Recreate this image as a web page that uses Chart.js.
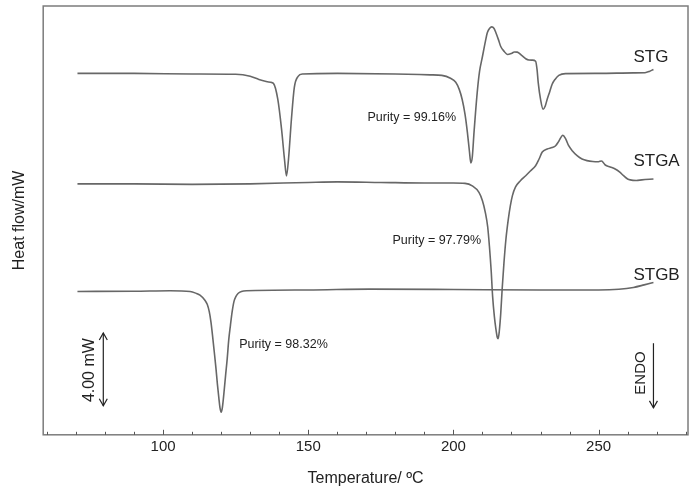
<!DOCTYPE html>
<html>
<head>
<meta charset="utf-8">
<script src="https://cdn.jsdelivr.net/npm/chart.js@4.4.1/dist/chart.umd.min.js"></script>
<style>
  html, body { margin: 0; padding: 0; background: #fff; }
  canvas { display: block; }
</style>
</head>
<body>
<canvas id="dsc" width="697" height="495"></canvas>
<script>
// temperatures (ºC) and heat flow (mW, stacked offset)
const stgT = [70.5, 90, 110, 125, 130, 133, 135.5, 137, 138, 139.5, 140.8, 141.8, 142.5, 143.2, 144.2, 145.2, 146.5, 148,
  160, 180, 192, 196, 199, 200.8, 202, 203, 204, 204.8, 205.5, 206, 206.5, 207.1, 208.2, 209, 210, 211, 211.7, 212.5, 213.2,
  214, 214.6, 215.5, 216.3, 217.5, 218.6, 220, 221, 222, 223.5, 224.9, 226, 227.2, 228.3, 228.8, 229.2, 230, 230.9, 231.6,
  232.3, 233.2, 234, 235, 236.3, 238.6, 250, 262, 266, 267.5, 268.9];
const stgV = [19.89, 19.89, 19.86, 19.84, 19.73, 19.56, 19.45, 19.40, 19.34, 18.47, 16.82, 15.18, 14.25, 15.18, 17.37, 19.12, 19.73, 19.86,
  19.89, 19.86, 19.81, 19.78, 19.62, 19.40, 19.01, 18.47, 17.64, 16.66, 15.62, 14.96, 15.29, 16.66, 18.85, 20.00, 20.82, 21.64, 22.14, 22.38, 22.45,
  22.36, 22.14, 21.75, 21.37, 21.10, 20.93, 20.99, 21.07, 21.06, 20.88, 20.70, 20.63, 20.62, 20.56, 20.11, 19.40, 18.47, 17.92, 18.08,
  18.47, 18.90, 19.29, 19.56, 19.78, 19.88, 19.89, 19.92, 19.93, 20.00, 20.11];

const stgaT = [70.5, 90, 110, 130, 150, 160, 175, 190, 200, 204, 206.5, 208.8, 210, 211, 211.8, 212.4, 213, 213.5, 214.1, 214.6, 215.1, 215.4,
  215.8, 216.3, 216.8, 217.4, 218.1, 218.9, 219.6, 220.3, 221.4, 223, 224.9, 226.5, 228.3, 229.5, 230.6, 232.3, 234, 235.2, 236.3, 237.7,
  238.7, 239.7, 241, 242.6, 244.3, 246, 248, 250, 251, 252.3, 254, 255.7, 257.2, 258.6, 260, 260.9, 263, 264.9, 268.9];
const stgaV = [13.81, 13.81, 13.78, 13.81, 13.89, 13.92, 13.89, 13.86, 13.86, 13.84, 13.70, 13.34, 12.88, 12.23, 11.45, 10.38, 9.04, 7.62, 6.52, 5.86, 5.37, 5.29,
  5.70, 6.68, 8.05, 9.45, 10.79, 11.86, 12.60, 13.15, 13.64, 13.97, 14.26, 14.52, 14.81, 15.18, 15.56, 15.73, 15.81, 15.91, 16.16, 16.49,
  16.27, 15.91, 15.62, 15.36, 15.18, 15.09, 15.04, 15.03, 15.07, 14.85, 14.74, 14.63, 14.47, 14.26, 14.08, 14.03, 14.00, 14.03, 14.08];

const stgbT = [70.5, 90, 102.4, 109.3, 111.5, 112.7, 114.4, 115.2, 115.9, 116.5, 117, 117.6, 118.2, 118.7, 119.2, 119.6, 120, 120.4, 120.9,
  121.5, 122.1, 122.6, 123.2, 123.8, 124.4, 125.1, 125.8, 127, 128.7, 150, 171, 200, 230, 250, 257, 262, 265.7, 268.9];
const stgbV = [7.89, 7.90, 7.93, 7.89, 7.78, 7.69, 7.41, 7.18, 6.78, 6.19, 5.50, 4.60, 3.67, 2.79, 2.03, 1.48, 1.24, 1.48, 2.21,
  3.23, 4.22, 5.21, 6.04, 6.79, 7.33, 7.62, 7.78, 7.89, 7.93, 7.97, 8.02, 8.00, 7.97, 7.97, 8.01, 8.11, 8.25, 8.38];

const sampleNames = ['STG', 'STGA', 'STGB'];
const purityLabels = ['Purity = 99.16%', 'Purity = 97.79%', 'Purity = 98.32%'];

const font = 'Liberation Sans, Arial, Helvetica, sans-serif';
const ink = '#222';
const lineCol = '#676767';

function pts(t, v) {
  return t.map((x, i) => ({x: x, y: v[i]}));
}

function mkSet(label, t, v) {
  return {
    label: label,
    data: pts(t, v),
    showLine: true,
    borderColor: lineCol,
    borderWidth: 1.6,
    pointRadius: 0,
    cubicInterpolationMode: 'monotone',
    fill: false
  };
}

// text placed in data coordinates
const notes = [
  {text: sampleNames[0], x: 262, y: 20.77, size: 17},
  {text: sampleNames[1], x: 262, y: 15.07, size: 17},
  {text: sampleNames[2], x: 262, y: 8.77, size: 17},
  {text: purityLabels[0], x: 170.4, y: 17.48, size: 12.5},
  {text: purityLabels[1], x: 179, y: 10.71, size: 12.5},
  {text: purityLabels[2], x: 126.2, y: 4.95, size: 12.5}
];

function head(ctx, x, y, dir) {
  ctx.beginPath();
  ctx.moveTo(x - 4, y - dir * 7);
  ctx.lineTo(x, y);
  ctx.lineTo(x + 4, y - dir * 7);
  ctx.stroke();
}

const overlay = {
  id: 'overlay',
  afterDraw(chart) {
    const {ctx, chartArea: a, scales: {x, y}} = chart;
    ctx.save();

    // frame
    ctx.strokeStyle = '#7c7c7c';
    ctx.lineWidth = 1.5;
    ctx.strokeRect(a.left, a.top, a.right - a.left, a.bottom - a.top);

    // inward tick marks
    ctx.lineWidth = 1;
    ctx.strokeStyle = '#555';
    x.ticks.forEach(t => {
      const px = Math.round(x.getPixelForValue(t.value)) + 0.5;
      const len = t.value % 50 === 0 ? 5 : 3;
      ctx.beginPath();
      ctx.moveTo(px, a.bottom);
      ctx.lineTo(px, a.bottom - len);
      ctx.stroke();
    });

    // sample names and purity notes
    ctx.fillStyle = ink;
    ctx.textBaseline = 'middle';
    ctx.textAlign = 'left';
    notes.forEach(n => {
      ctx.font = n.size + 'px ' + font;
      ctx.fillText(n.text, x.getPixelForValue(n.x), y.getPixelForValue(n.y));
    });

    // 4.00 mW scale bar
    ctx.strokeStyle = '#222';
    ctx.lineWidth = 1.2;
    const bx = x.getPixelForValue(79.4);
    const b0 = y.getPixelForValue(5.6), b1 = y.getPixelForValue(1.6);
    ctx.beginPath();
    ctx.moveTo(bx, b0);
    ctx.lineTo(bx, b1);
    ctx.stroke();
    head(ctx, bx, b0, -1);
    head(ctx, bx, b1, 1);

    ctx.save();
    ctx.translate(x.getPixelForValue(74.6), y.getPixelForValue(3.56));
    ctx.rotate(-Math.PI / 2);
    ctx.textAlign = 'center';
    ctx.font = '16px ' + font;
    ctx.fillText('4.00 mW', 0, 0);
    ctx.restore();

    // ENDO arrow
    const ex = x.getPixelForValue(268.9);
    const e0 = y.getPixelForValue(5.04), e1 = y.getPixelForValue(1.48);
    ctx.beginPath();
    ctx.moveTo(ex, e0);
    ctx.lineTo(ex, e1);
    ctx.stroke();
    head(ctx, ex, e1, 1);

    ctx.save();
    ctx.translate(x.getPixelForValue(264.4), y.getPixelForValue(3.4));
    ctx.rotate(-Math.PI / 2);
    ctx.textAlign = 'center';
    ctx.font = '15px ' + font;
    ctx.fillText('ENDO', 0, 0);
    ctx.restore();

    ctx.restore();
  }
};

const chart = new Chart(document.getElementById('dsc').getContext('2d'), {
  type: 'scatter',
  data: {
    datasets: [
      mkSet(sampleNames[0], stgT, stgV),
      mkSet(sampleNames[1], stgaT, stgaV),
      mkSet(sampleNames[2], stgbT, stgbV)
    ]
  },
  options: {
    responsive: false,
    animation: false,
    layout: {padding: {top: 6, right: 9, bottom: 0, left: 0}},
    plugins: {legend: {display: false}, tooltip: {enabled: false}},
    scales: {
      x: {
        type: 'linear',
        min: 58.7,
        max: 280.8,
        grid: {display: false, drawTicks: false},
        border: {display: false},
        afterBuildTicks: s => {
          s.ticks = s.ticks.filter(t => Math.abs(t.value % 10) < 1e-6);
        },
        ticks: {
          stepSize: 10,
          includeBounds: false,
          autoSkip: false,
          maxRotation: 0,
          padding: 3,
          color: ink,
          font: {size: 15, family: font},
          callback: v => (v % 50 === 0 ? v : '')
        },
        title: {
          display: true,
          text: 'Temperature/ ºC',
          color: ink,
          font: {size: 16, family: font},
          padding: {top: 10, bottom: 7}
        }
      },
      y: {
        min: 0,
        max: 23.6,
        grid: {display: false, drawTicks: false},
        border: {display: false},
        ticks: {display: false},
        title: {
          display: true,
          text: 'Heat flow/mW',
          color: ink,
          font: {size: 16, family: font},
          padding: {top: 10, bottom: 14}
        }
      }
    }
  },
  plugins: [overlay]
});
</script>
</body>
</html>
